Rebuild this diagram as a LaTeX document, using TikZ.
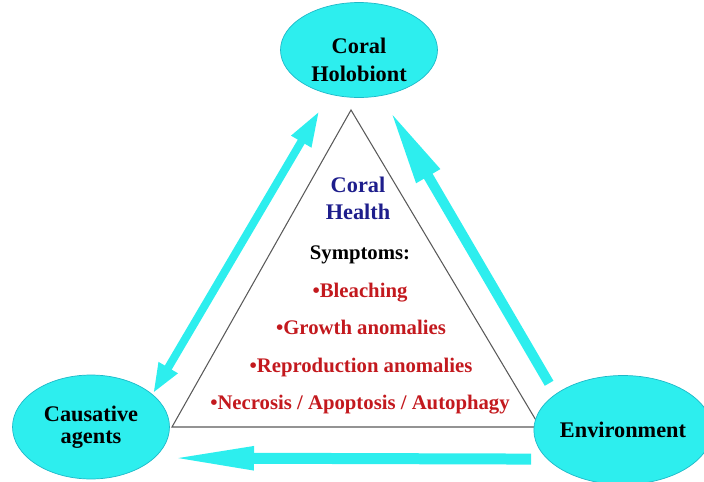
\documentclass[tikz,border=0pt]{standalone}
\usepackage{fontspec}
\setmainfont{Liberation Serif}[BoldFont={Liberation Serif Bold}]
\newfontfamily\timesbold{Liberation Serif Bold}
\usetikzlibrary{arrows.meta, shapes.geometric}
\definecolor{aqua}{RGB}{45,238,238}
\definecolor{aquaedge}{RGB}{30,185,200}
\definecolor{healthblue}{RGB}{30,30,140}
\definecolor{sympred}{RGB}{195,25,30}

\begin{document}
\begin{tikzpicture}[x=0.02cm, y=-0.02cm,
    bubble/.style={ellipse, fill=aqua, draw=aquaedge, line width=0.4pt, inner sep=0pt, minimum width=3.14cm, align=center, font=\fontsize{12.7}{12.5}\selectfont\timesbold},
    cyarrow/.style={draw=aqua},
    headtext/.style={font=\fontsize{12.7}{15}\selectfont\timesbold, text=healthblue, anchor=base},
    symptext/.style={font=\fontsize{11.8}{14}\selectfont\timesbold, text=sympred, anchor=base}]
    \useasboundingbox (0,0) rectangle (704,481);
    \draw[black!65, line width=0.6pt] (351,110) -- (540,427) -- (172,427) -- cycle;
    \node[bubble, minimum height=1.9cm] (holo) at (359,50) {};
    \node[font=\fontsize{12.7}{15.9}\selectfont\timesbold, align=center] (holotext) at (359,60) {Coral\\Holobiont};
    \node[bubble, minimum height=2.08cm] (agents) at (91,427) {Causative\\agents};
    \node[bubble, minimum height=2.18cm] (env) at (623,430) {Environment};
    \node[headtext] (coral) at (358,192) {Coral};
    \node[headtext] (health) at (358,219) {Health};
    \node[symptext, text=black] (symptoms) at (360,259) {Symptoms:};
    \node[symptext] (bleach) at (360,297) {•Bleaching};
    \node[symptext] (growth) at (361,334) {•Growth anomalies};
    \node[symptext] (repro) at (361,372) {•Reproduction anomalies};
    \node[symptext] (necro) at (360,409) {•Necrosis / Apoptosis / Autophagy};
    \draw[cyarrow, line width=0.16cm, {Triangle[length=0.6cm,width=0.4cm]}-{Triangle[length=0.72cm,width=0.42cm]}, shorten <=0.02cm, shorten >=0.38cm] (agents.28) -- (holo.236);
    \draw[cyarrow, line width=0.2cm, -{Triangle[length=1.52cm,width=0.5cm]}, shorten <=0.25cm, shorten >=0.34cm] (env.152) -- (holo.296);
    \draw[cyarrow, line width=0.22cm, -{Triangle[length=1.76cm,width=0.42cm]}, shorten <=0.32cm, shorten >=0.23cm] (env.201) -- (agents.334);
\end{tikzpicture}
\end{document}
